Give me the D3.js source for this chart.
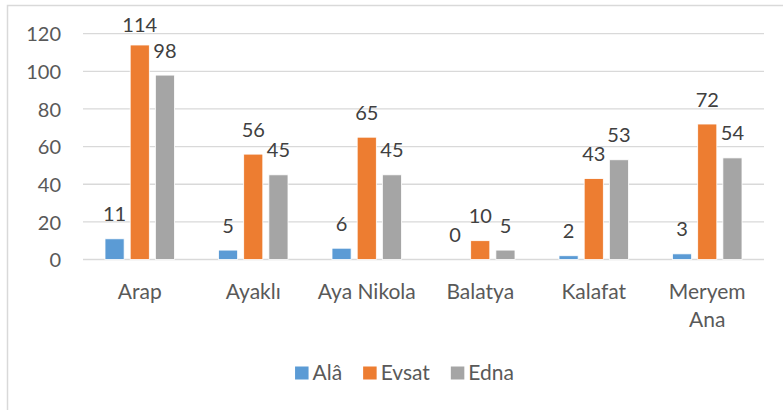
<!DOCTYPE html>
<html>
<head>
<meta charset="utf-8">
<script src="https://cdn.jsdelivr.net/npm/d3@7"></script>
<style>
  body { margin: 0; background: #fff; }
  svg { display: block; font-family: Lato, "Open Sans", sans-serif; }
</style>
</head>
<body>
<div id="chart"></div>
<script>
const categories = ['Arap', 'Ayaklı', 'Aya Nikola', 'Balatya', 'Kalafat', 'Meryem Ana']
const seriesNames = ['Alâ', 'Evsat', 'Edna']
const ala = [11, 5, 6, 0, 2, 3]
const evsat = [114, 56, 65, 10, 43, 72]
const edna = [98, 45, 45, 5, 53, 54]
const yTicks = [0, 20, 40, 60, 80, 100, 120]
const colors = ['#5B9BD5', '#ED7D31', '#A5A5A5']

const width = 783, height = 410
const plotLeft = 83, plotRight = 764, plotTop = 33.7, plotBottom = 259.5

const svg = d3.select('#chart').append('svg')
    .attr('width', width)
    .attr('height', height)

// chart border (runs off the right / bottom of the picture)
svg.append('rect')
    .attr('x', 7.5).attr('y', 5.5)
    .attr('width', 800).attr('height', 420)
    .attr('fill', 'none')
    .attr('stroke', '#D9D9D9')
    .attr('stroke-width', 1.5)

const x = d3.scaleBand().domain(categories).range([plotLeft, plotRight])
const y = d3.scaleLinear().domain([0, 120]).range([plotBottom, plotTop])

// gridlines
svg.append('g').selectAll('line')
    .data(yTicks).enter().append('line')
    .attr('x1', plotLeft).attr('x2', plotRight)
    .attr('y1', d => y(d)).attr('y2', d => y(d))
    .attr('stroke', '#D9D9D9')
    .attr('stroke-width', 1.3)

// y axis labels
const yAxis = svg.append('g')
    .attr('transform', 'translate(' + (plotLeft - 22) + ',0)')
    .call(d3.axisLeft(y).tickValues(yTicks).tickSize(0).tickPadding(0))
yAxis.select('.domain').remove()
yAxis.selectAll('text')
    .attr('font-size', 20)
    .attr('font-family', 'Lato, sans-serif')
    .attr('fill', '#595959')
    .attr('dy', '0.36em')

const table = categories.map((c, i) => ({ cat: c, vals: [ala[i], evsat[i], edna[i]] }))

const inner = d3.scaleBand().domain([0, 1, 2])
    .range([22, x.bandwidth() - 22])
    .paddingInner(0.24)

const groups = svg.append('g').selectAll('g')
    .data(table).enter().append('g')
    .attr('transform', d => 'translate(' + x(d.cat) + ',0)')

groups.selectAll('rect')
    .data(d => d.vals).enter().append('rect')
    .attr('x', (v, i) => inner(i))
    .attr('width', inner.bandwidth())
    .attr('y', v => y(v))
    .attr('height', v => y(0) - y(v))
    .attr('fill', (v, i) => colors[i])
    .attr('stroke', '#fff')
    .attr('stroke-width', 0.8)

groups.selectAll('text')
    .data(d => d.vals).enter().append('text')
    .attr('x', (v, i) => inner(i) + inner.bandwidth() / 2)
    .attr('y', v => Math.max(y(v) - 17.5, 32))
    .attr('text-anchor', 'middle')
    .attr('font-size', 20)
    .attr('fill', '#404040')
    .text(v => v)

// category labels, wrapped like Excel
const catLabels = svg.append('g').selectAll('text')
    .data(categories).enter().append('text')
    .attr('x', d => x(d) + x.bandwidth() / 2)
    .attr('y', 298.5)
    .attr('text-anchor', 'middle')
    .attr('font-size', 21)
    .attr('fill', '#595959')
catLabels.each(function(d) {
    const words = d === 'Meryem Ana' ? ['Meryem', 'Ana'] : [d]
    d3.select(this).selectAll('tspan')
        .data(words).enter().append('tspan')
        .attr('x', x(d) + x.bandwidth() / 2)
        .attr('dy', (w, i) => i ? 28 : 0)
        .text(w => w)
})

// legend
const legend = svg.append('g')
const items = legend.selectAll('g')
    .data(seriesNames).enter().append('g')
items.append('rect')
    .attr('width', 13.5).attr('height', 13)
    .attr('y', 366.5)
    .attr('fill', (d, i) => colors[i])
items.append('text')
    .attr('x', 17.5)
    .attr('y', 379.5)
    .attr('font-size', 21)
    .attr('fill', '#595959')
    .text(d => d)

let pos = 0
const offs = []
items.each(function() {
    offs.push(pos)
    pos += 17.5 + this.querySelector('text').getComputedTextLength() + 21
})
pos -= 21
const start = 404.5 - pos / 2
items.attr('transform', (d, i) => 'translate(' + (start + offs[i]) + ',0)')
</script>
</body>
</html>
